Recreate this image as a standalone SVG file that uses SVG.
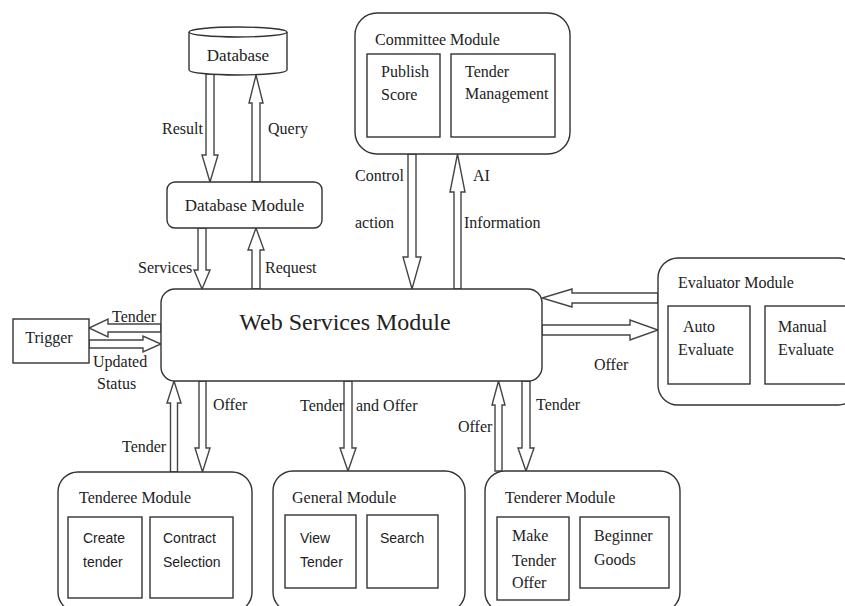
<svg xmlns="http://www.w3.org/2000/svg" width="845" height="606" viewBox="0 0 845 606">
<style>
.box{fill:#fff;stroke:#333;stroke-width:1.4}
.inner{fill:#fff;stroke:#333;stroke-width:1.4}
.arr{fill:#fff;stroke:#444;stroke-width:1.4;stroke-linejoin:miter}
.t{font-family:"Liberation Serif","Times New Roman",serif;font-size:16px;fill:#222}
.s{font-family:"Liberation Sans",Arial,sans-serif;font-size:14px;fill:#222}
.big{font-family:"Liberation Serif","Times New Roman",serif;font-size:24px;fill:#222}
</style>
<rect width="845" height="606" fill="#fff"/>
<g id="connectors">
<polygon class="arr" points="206,74 214,74 214,155 218,155 210,182 202,155 206,155"/>
<polygon class="arr" points="252,182 260,182 260,103 263,103 256,75 249,103 252,103"/>
<polygon class="arr" points="198,228 206,228 206,270 210,270 202,289 194,270 198,270"/>
<polygon class="arr" points="252,289 260,289 260,250 264,250 256,228 248,250 252,250"/>
<polygon class="arr" points="408,154 416,154 416,257 421,257 412,289 403,257 408,257"/>
<polygon class="arr" points="454,289 461,289 461,192 465,192 457.5,154 450,192 454,192"/>
<polygon class="arr" points="658,293 572,293 572,289 542,298 572,307 572,303 658,303"/>
<polygon class="arr" points="542,325 630,325 630,320 658,330 630,340 630,335 542,335"/>
<polygon class="arr" points="161,324 108,324 108,319 89,328 108,337 108,332 161,332"/>
<polygon class="arr" points="89,340 143,340 143,336 161,344 143,352 143,348 89,348"/>
<polygon class="arr" points="170.5,472 177.5,472 177.5,403 181,403 174,381 167,403 170.5,403"/>
<polygon class="arr" points="199,381 206,381 206,448 210,448 202.5,472 195,448 199,448"/>
<polygon class="arr" points="344,381 352,381 352,448 356,448 348,471 340,448 344,448"/>
<polygon class="arr" points="495,471 502,471 502,405 505,405 498.5,381 492,405 495,405"/>
<polygon class="arr" points="522,381 530,381 530,448 534,448 526,471 518,448 522,448"/>
<text class="t" x="162" y="134">Result</text>
<text class="t" x="268" y="134">Query</text>
<text class="t" x="138" y="273">Services</text>
<text class="t" x="265" y="273">Request</text>
<text class="t" x="355" y="181">Control</text>
<text class="t" x="355" y="228">action</text>
<text class="t" x="473" y="181">AI</text>
<text class="t" x="464" y="228">Information</text>
<text class="t" x="112" y="322">Tender</text>
<text class="t" x="93" y="367">Updated</text>
<text class="t" x="97" y="389">Status</text>
<text class="t" x="213" y="410">Offer</text>
<text class="t" x="122" y="452">Tender</text>
<text class="t" x="300" y="411">Tender</text>
<text class="t" x="356" y="411">and Offer</text>
<text class="t" x="458" y="432">Offer</text>
<text class="t" x="536" y="410">Tender</text>
<text class="t" x="594" y="370">Offer</text>
</g>
<g id="database">
<path class="box" d="M189,32 A49,5 0 0 1 287,32 L287,70 A49,5 0 0 1 189,70 Z"/>
<path fill="none" stroke="#333" stroke-width="1.4" d="M189,32 A49,5 0 0 0 287,32"/>
<text class="t" x="238" y="61" text-anchor="middle" style="font-size:17px">Database</text>
</g>
<g id="database-module">
<rect class="box" x="167" y="182" width="155" height="46" rx="8"/>
<text class="t" x="244.5" y="211" text-anchor="middle" style="font-size:17px">Database Module</text>
</g>
<g id="committee-module">
<rect class="box" x="355" y="13" width="215" height="141" rx="22"/>
<text class="t" x="375" y="45">Committee Module</text>
<rect class="inner" x="367" y="54" width="73" height="83"/>
<text class="t" x="381" y="77">Publish</text>
<text class="t" x="381" y="100">Score</text>
<rect class="inner" x="451" y="54" width="104" height="83"/>
<text class="t" x="465" y="77">Tender</text>
<text class="t" x="465" y="99">Management</text>
</g>
<g id="web-services-module">
<rect class="box" x="161" y="289" width="381" height="92" rx="14"/>
<text class="big" x="345" y="330" text-anchor="middle">Web Services Module</text>
</g>
<g id="trigger">
<rect class="box" x="13" y="319" width="76" height="44"/>
<text class="t" x="49" y="343" text-anchor="middle">Trigger</text>
</g>
<g id="evaluator-module">
<rect class="box" x="658" y="258" width="200" height="147" rx="20"/>
<text class="t" x="678" y="288">Evaluator Module</text>
<rect class="inner" x="668" y="306" width="82" height="78"/>
<text class="t" x="683" y="332">Auto</text>
<text class="t" x="678" y="355">Evaluate</text>
<rect class="inner" x="765" y="306" width="90" height="78"/>
<text class="t" x="778" y="332">Manual</text>
<text class="t" x="778" y="355">Evaluate</text>
</g>
<g id="tenderee-module">
<rect class="box" x="58" y="472" width="194" height="140" rx="20"/>
<text class="t" x="79" y="503">Tenderee Module</text>
<rect class="inner" x="68" y="517" width="74" height="81"/>
<text class="s" x="83" y="543">Create</text>
<text class="s" x="83" y="567">tender</text>
<rect class="inner" x="150" y="517" width="83" height="81"/>
<text class="s" x="163" y="543">Contract</text>
<text class="s" x="163" y="567">Selection</text>
</g>
<g id="general-module">
<rect class="box" x="273" y="471" width="192" height="141" rx="20"/>
<text class="t" x="292" y="503">General Module</text>
<rect class="inner" x="285" y="515" width="71" height="73"/>
<text class="s" x="300" y="543">View</text>
<text class="s" x="300" y="567">Tender</text>
<rect class="inner" x="367" y="515" width="71" height="73"/>
<text class="s" x="380" y="543">Search</text>
</g>
<g id="tenderer-module">
<rect class="box" x="485" y="471" width="195" height="141" rx="20"/>
<text class="t" x="505" y="503">Tenderer Module</text>
<rect class="inner" x="497" y="517" width="72" height="83"/>
<text class="t" x="512" y="541">Make</text>
<text class="t" x="512" y="566">Tender</text>
<text class="t" x="512" y="588">Offer</text>
<rect class="inner" x="580" y="517" width="89" height="71"/>
<text class="t" x="594" y="541">Beginner</text>
<text class="t" x="594" y="565">Goods</text>
</g>
</svg>
